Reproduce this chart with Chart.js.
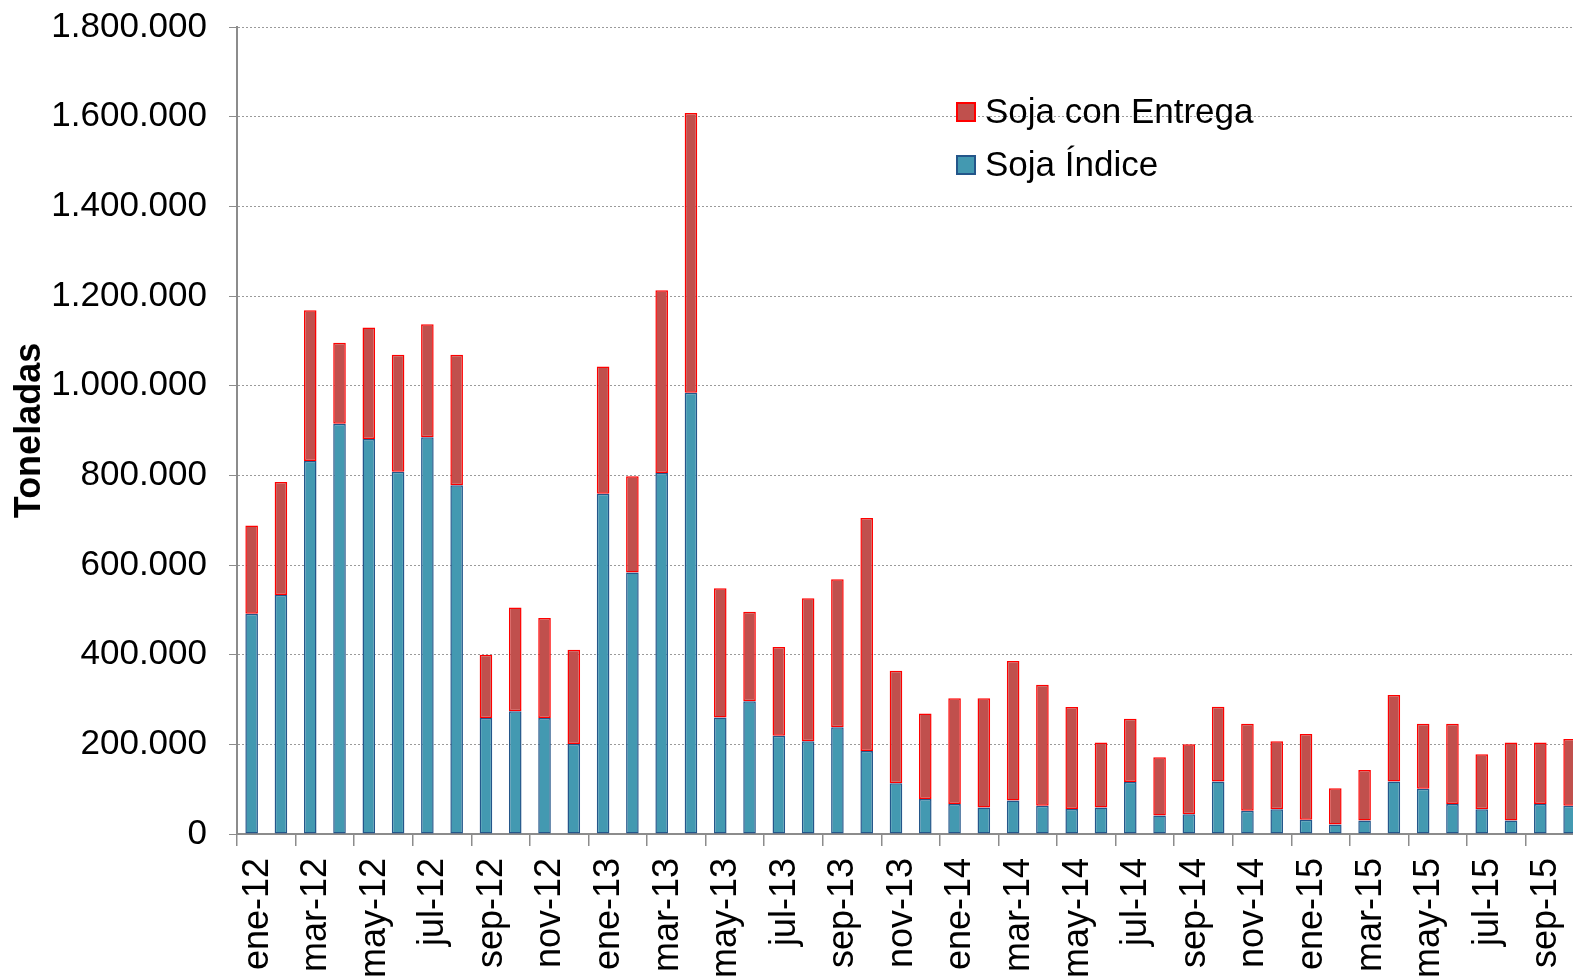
<!DOCTYPE html>
<html lang="es">
<head>
    <meta charset="UTF-8">
    <title>Soja</title>
    <style>
        body {
            margin: 0;
            padding: 0;
            background: #ffffff;
            overflow: hidden;
            font-family: "Liberation Sans", Arial, sans-serif;
        }
        #wrap {
            position: absolute;
            left: 0;
            top: -16px;
            width: 1625px;
            height: 996px;
        }
        #legend {
            position: absolute;
            left: 956px;
            top: 84px;
            font-size: 35px;
            color: #000;
        }
        .item {
            height: 53px;
            line-height: 53px;
            white-space: nowrap;
        }
        .box {
            display: inline-block;
            width: 16px;
            height: 16px;
            margin-right: 9px;
            vertical-align: 1px;
        }
    </style>
</head>
<body>
    <div id="wrap">
        <canvas id="chart"></canvas>
    </div>
    <div id="legend"></div>

    <script src="https://cdn.jsdelivr.net/npm/chart.js"></script>
    <script>
        // months ene-12 .. oct-15
        const months = ['ene', 'feb', 'mar', 'abr', 'may', 'jun', 'jul', 'ago', 'sep', 'oct', 'nov', 'dic'];
        const years = ['12', '13', '14', '15'];
        const labels = [];
        years.forEach(y => months.forEach(m => labels.push(m + '-' + y)));
        labels.length = 46;

        // toneladas
        const sojaIndice = [
            491000, 533000, 832000, 915000, 881000, 808000, 885000, 778000, 259000, 274000, 259000, 201000,
            759000, 583000, 805000, 984000, 260000, 296000, 219000, 207000, 238000, 185000, 113000, 78000,
            67000, 59000, 75000, 63000, 56000, 59000, 116000, 41000, 44000, 117000, 52000, 55000,
            32000, 21000, 30000, 117000, 101000, 67000, 55000, 30000, 67000, 63000
        ];
        const sojaEntrega = [
            197000, 252000, 336000, 181000, 249000, 261000, 252000, 291000, 141000, 231000, 223000, 210000,
            284000, 215000, 408000, 624000, 288000, 200000, 198000, 319000, 330000, 520000, 251000, 191000,
            236000, 244000, 311000, 270000, 227000, 145000, 141000, 130000, 156000, 167000, 194000, 152000,
            191000, 81000, 113000, 193000, 145000, 179000, 123000, 174000, 137000, 149000
        ];
        const yTicks = [0, 200000, 400000, 600000, 800000, 1000000, 1200000, 1400000, 1600000, 1800000];

        const font = "'Liberation Sans', Arial, sans-serif";

        function fmt(v) {
            return String(v).replace(/\B(?=(\d{3})+(?!\d))/g, '.');
        }

        const ctx = document.getElementById('chart').getContext('2d');
        const chart = new Chart(ctx, {
            type: 'bar',
            data: {
                labels: labels,
                datasets: [
                    {
                        label: 'Soja Índice',
                        data: sojaIndice,
                        backgroundColor: '#4399b1',
                        borderColor: '#24568a',
                        borderWidth: 1.5,
                        borderSkipped: false
                    },
                    {
                        label: 'Soja con Entrega',
                        data: sojaEntrega,
                        backgroundColor: '#c0504d',
                        borderColor: '#ff0000',
                        borderWidth: 1.5,
                        borderSkipped: false
                    }
                ]
            },
            options: {
                responsive: true,
                maintainAspectRatio: false,
                animation: false,
                layout: { padding: { top: 27, right: 18, bottom: 0, left: 0 } },
                datasets: {
                    bar: { barPercentage: 0.43, categoryPercentage: 1 }
                },
                plugins: {
                    legend: { display: false },
                    tooltip: { enabled: false }
                },
                scales: {
                    x: {
                        stacked: true,
                        afterFit: s => { s.height = 146; },
                        grid: {
                            offset: true,
                            drawOnChartArea: false,
                            drawTicks: true,
                            tickLength: 12,
                            tickColor: c => (c.index % 2 === 0 ? '#8c8c8c' : 'rgba(0,0,0,0)'),
                            lineWidth: 1.5
                        },
                        border: { display: true, color: '#8c8c8c', width: 2 },
                        ticks: {
                            autoSkip: false,
                            minRotation: 90,
                            maxRotation: 90,
                            padding: 12,
                            labelOffset: 6,
                            color: '#000',
                            font: { family: font, size: 36 },
                            callback: function (v, i) { return i % 2 === 0 ? labels[i] : ''; }
                        }
                    },
                    y: {
                        stacked: true,
                        min: 0,
                        max: 1800000,
                        afterFit: s => { s.width = 237; },
                        afterBuildTicks: s => { s.ticks = yTicks.map(v => ({ value: v })); },
                        grid: {
                            color: '#9a9a9a',
                            lineWidth: 1,
                            drawTicks: true,
                            tickLength: 8,
                            tickColor: '#8c8c8c'
                        },
                        border: { display: true, color: '#8c8c8c', width: 2, dash: [2, 2] },
                        ticks: {
                            padding: 22,
                            color: '#000',
                            font: { family: font, size: 35 },
                            callback: v => fmt(v)
                        },
                        title: {
                            display: true,
                            text: 'Toneladas',
                            color: '#000',
                            font: { family: font, size: 36, weight: 'bold' },
                            padding: { top: 8, bottom: 0 }
                        }
                    }
                }
            }
        });

        // legend, Entrega listed first as in the original
        const legend = document.getElementById('legend');
        chart.data.datasets.slice().reverse().forEach(ds => {
            const row = document.createElement('div');
            row.className = 'item';
            const box = document.createElement('span');
            box.className = 'box';
            box.style.background = ds.backgroundColor;
            box.style.border = '2px solid ' + ds.borderColor;
            row.appendChild(box);
            row.appendChild(document.createTextNode(ds.label));
            legend.appendChild(row);
        });
    </script>
</body>
</html>
